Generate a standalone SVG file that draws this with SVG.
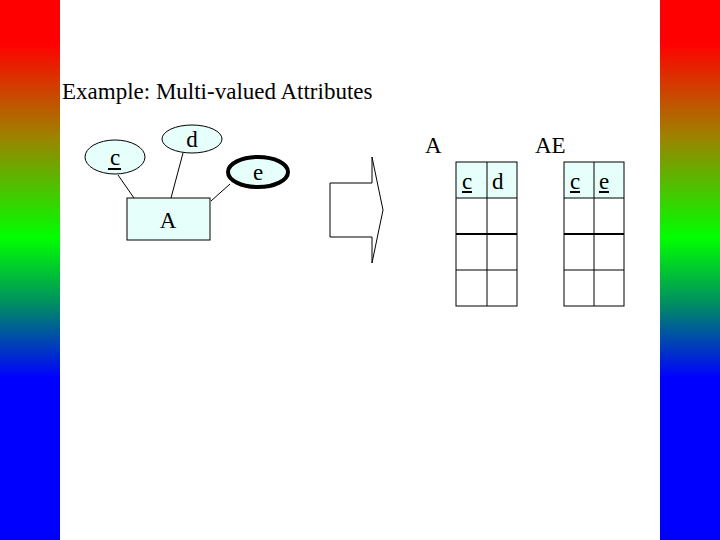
<svg xmlns="http://www.w3.org/2000/svg" width="720" height="540" viewBox="0 0 720 540">
<defs>
<linearGradient id="g" x1="0" y1="0" x2="0" y2="1">
<stop offset="0.08" stop-color="#ff0000"/><stop offset="0.25" stop-color="#a08000"/><stop offset="0.44" stop-color="#00ff00"/><stop offset="0.56" stop-color="#009060"/><stop offset="0.7" stop-color="#0000ff"/><stop offset="1" stop-color="#0000ff"/>
</linearGradient>
<style>
text{font-family:"Liberation Serif","Times New Roman",serif;font-size:23px;fill:#000}
.n{fill:#e6fffa;stroke:#000;stroke-width:1}
.l{stroke:#000;stroke-width:1;fill:none}
</style>
</defs>
<rect width="720" height="540" fill="#fff"/>
<rect x="0" y="0" width="60" height="540" fill="url(#g)"/>
<rect x="660" y="0" width="60" height="540" fill="url(#g)"/>
<text x="62" y="99">Example: Multi-valued Attributes</text>
<g id="connectors" class="l">
<line x1="118" y1="175" x2="134" y2="198"/>
<line x1="183" y1="153" x2="171" y2="198"/>
<line x1="230" y1="184" x2="211" y2="201"/>
</g>
<g id="c"><ellipse class="n" cx="115" cy="157" rx="30" ry="17"/><text x="115" y="165" text-anchor="middle">c</text><line x1="108" y1="169" x2="121" y2="169" stroke="#000" stroke-width="2"/></g>
<g id="d"><ellipse class="n" cx="192" cy="139" rx="30" ry="14"/><text x="192" y="147" text-anchor="middle">d</text></g>
<g id="e"><ellipse class="n" cx="258" cy="172" rx="30" ry="15" style="stroke-width:4"/><text x="258" y="180" text-anchor="middle">e</text></g>
<g id="A"><rect class="n" x="127" y="198" width="83" height="42"/><text x="168" y="228" text-anchor="middle">A</text></g>
<g id="arrow"><polygon class="l" points="330,183 372,183 372,157 383,210 372,263 372,237 330,237"/></g>
<g id="tableA">
<text x="425" y="153">A</text>
<rect x="456" y="162" width="61" height="36" fill="#e6fffa"/>
<g class="l"><rect x="456" y="162" width="61" height="144"/><line x1="487" y1="162" x2="487" y2="306"/><line x1="456" y1="198" x2="517" y2="198"/><line x1="456" y1="234" x2="517" y2="234" stroke-width="2"/><line x1="456" y1="270" x2="517" y2="270"/></g>
<text x="462" y="189">c</text><line x1="462" y1="192" x2="472" y2="192" stroke="#000" stroke-width="2"/>
<text x="492" y="189">d</text>
</g>
<g id="tableAE">
<text x="535" y="153">AE</text>
<rect x="564" y="162" width="60" height="36" fill="#e6fffa"/>
<g class="l"><rect x="564" y="162" width="60" height="144"/><line x1="594" y1="162" x2="594" y2="306"/><line x1="564" y1="198" x2="624" y2="198"/><line x1="564" y1="234" x2="624" y2="234" stroke-width="2"/><line x1="564" y1="270" x2="624" y2="270"/></g>
<text x="570" y="189">c</text><line x1="570" y1="192" x2="580" y2="192" stroke="#000" stroke-width="2"/>
<text x="599" y="189">e</text><line x1="599" y1="192" x2="609" y2="192" stroke="#000" stroke-width="2"/>
</g>
</svg>
